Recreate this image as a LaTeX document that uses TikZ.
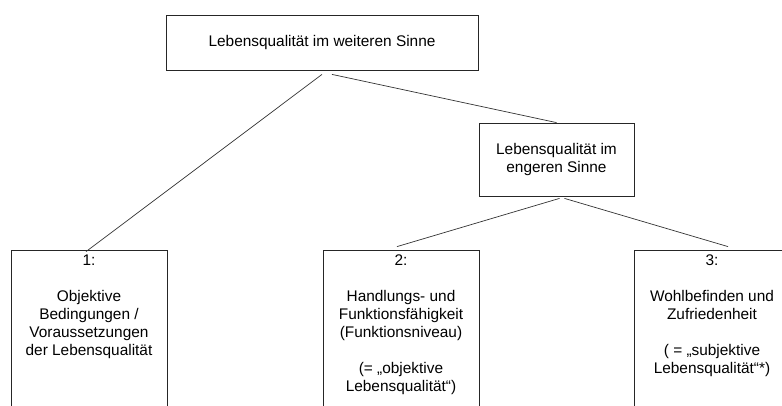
\documentclass[tikz,border=0pt]{standalone}
\usepackage{fontspec}
\setmainfont{Liberation Sans}
\usetikzlibrary{positioning}

\begin{document}
\begin{tikzpicture}[x=1pt, y=1pt,
        box/.style={rectangle, draw=black!85, line width=0.8pt, align=center, font=\fontsize{15.4}{18}\selectfont},
        boxtext/.style={anchor=north, inner sep=5pt, align=center, font=\fontsize{15.4}{18}\selectfont},
        link/.style={draw=black!80, line width=0.7pt}]

        \useasboundingbox (0,0) rectangle (782,405);

        % Top level
        \node[box, minimum width=312pt, minimum height=55pt] (weit) at (322,362.5) {Lebensqualität im weiteren Sinne};

        % Second level
        \node[box, minimum width=155pt, minimum height=73pt] (eng) at (556.5,245.5) {Lebensqualität im\\engeren Sinne};

        % Bottom boxes, open at the lower edge
        \node[box, minimum width=156pt, minimum height=170pt] (obj) at (89,70) {};
        \node[box, minimum width=156pt, minimum height=170pt] (func) at (401,70) {};
        \node[box, minimum width=156pt, minimum height=170pt] (wohl) at (712,70) {};

        % Texts of the bottom boxes
        \node[boxtext] (objtext) at (obj.north) {1:\\[18pt]Objektive\\Bedingungen /\\Voraussetzungen\\der Lebensqualität};
        \node[boxtext] (functext) at (func.north) {2:\\[18pt]Handlungs- und\\Funktionsfähigkeit\\(Funktionsniveau)\\[18pt](= „objektive\\Lebensqualität“)};
        \node[boxtext] (wohltext) at (wohl.north) {3:\\[18pt]Wohlbefinden und\\Zufriedenheit\\[18pt]( = „subjektive\\Lebensqualität“*)};

        % Connectors
        \draw[link] ([yshift=-4pt]weit.south) -- ([xshift=-3pt,yshift=-2pt]obj.north);
        \draw[link] ([xshift=10pt,yshift=-4pt]weit.south) -- (eng.north);
        \draw[link] ([xshift=3pt,yshift=-2pt]eng.south) -- ([xshift=-4pt,yshift=3pt]func.north);
        \draw[link] ([xshift=8pt,yshift=-2pt]eng.south) -- ([xshift=16pt,yshift=3pt]wohl.north);

\end{tikzpicture}
\end{document}
